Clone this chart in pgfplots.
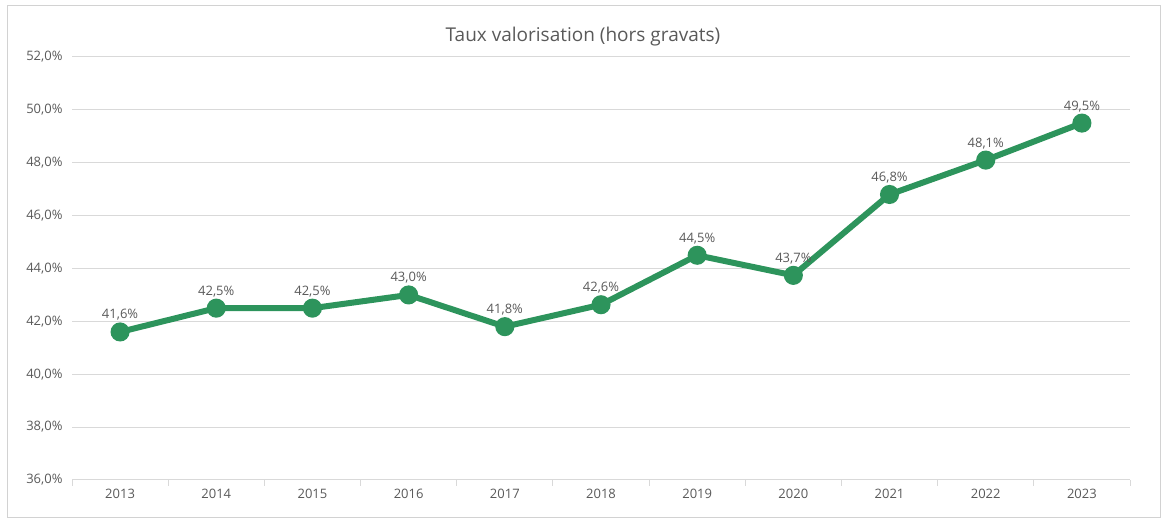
\documentclass[border=0pt]{standalone}
\usepackage{fontspec}
\setmainfont{Open Sans}
\usepackage{pgfplots}
\pgfplotsset{compat=1.18}
\definecolor{serie}{RGB}{45,148,92}
\definecolor{txt}{RGB}{89,89,89}
\definecolor{grille}{RGB}{217,217,217}
\definecolor{cadre}{RGB}{210,210,210}

\begin{document}
\begin{tikzpicture}
\useasboundingbox (-72pt,-41pt) rectangle (1092pt,480pt);
\draw[cadre, line width=1pt] (-64pt,-38pt) rectangle (1088pt,474pt);
\begin{axis}[
  at={(0pt,0pt)}, anchor=south west,
  scale only axis,
  width=1058pt, height=423pt,
  xmin=-0.5, xmax=10.5,
  ymin=36, ymax=52,
  xtick={0,...,10},
  xticklabels={2013,2014,2015,2016,2017,2018,2019,2020,2021,2022,2023},
  minor xtick={-0.5,0.5,...,10.5},
  ytick={36,38,...,52},
  axis x line*=bottom,
  axis y line*=left,
  y axis line style={draw=none},
  x axis line style={grille, line width=1pt, -},
  major tick length=0pt,
  minor tick length=6pt,
  tick align=outside,
  minor tick style={grille, line width=1pt},
  ymajorgrids,
  grid style={grille, line width=1pt},
  yticklabel={\pgfmathprintnumber[fixed,fixed zerofill,precision=1,use comma]{\tick}\%},
  /pgf/number format/assume math mode=true,
  ticklabel style={font=\fontsize{13}{15}\selectfont, text=txt},
  yticklabel style={xshift=-6pt},
  xticklabel style={yshift=-6pt},
  nodes near coords={\pgfmathprintnumber[fixed,fixed zerofill,precision=1,use comma]{\pgfplotspointmeta}\%},
  every node near coord/.append style={font=\fontsize{13}{15}\selectfont, text=txt, anchor=south, yshift=5pt},
  clip=false,
]
\addplot[serie, line width=6pt, mark=*, mark size=6.5pt, mark options={fill=serie, draw=none}] coordinates {
 (0,41.6) (1,42.5) (2,42.5) (3,43.0) (4,41.8) (5,42.63)
 (6,44.5) (7,43.74) (8,46.8) (9,48.1) (10,49.5)};
\end{axis}
\node[text=txt, font=\fontsize{19}{22}\selectfont] at (511pt,443pt) {Taux valorisation (hors gravats)};
\end{tikzpicture}
\end{document}
